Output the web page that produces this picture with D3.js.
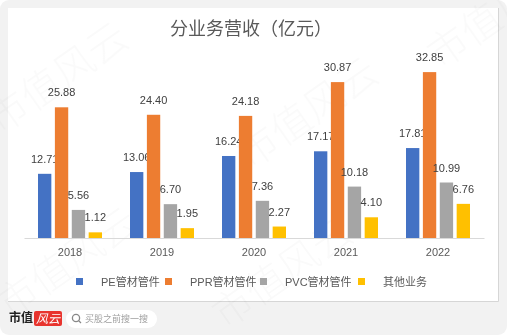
<!DOCTYPE html>
<html><head><meta charset="utf-8">
<script src="https://cdn.jsdelivr.net/npm/d3@7"></script>
<style>html,body{margin:0;padding:0;background:#fff;overflow:hidden}</style>
</head><body>
<script>
const categories = ['2018','2019','2020','2021','2022'];
const seriesNames = ['PE管材管件','PPR管材管件','PVC管材管件','其他业务'];
const pe = [12.71,13.06,16.24,17.17,17.81];
const ppr = [25.88,24.40,24.18,30.87,32.85];
const pvc = [5.56,6.70,7.36,10.18,10.99];
const other = [1.12,1.95,2.27,4.10,6.76];
const colors = ['#4472C4','#ED7D31','#A5A5A5','#FFC000'];
const title = '分业务营收（亿元）';

const values = [pe, ppr, pvc, other];
const W = 507, H = 335;
const svg = d3.select('body').append('svg').attr('width', W).attr('height', H);
const font = '"Liberation Sans", Arial, "Noto Sans CJK SC", sans-serif';
const cjk = '"Noto Sans CJK SC", "Liberation Sans", sans-serif';

// frame
svg.append('rect').attr('x',0).attr('y',0).attr('width',W).attr('height',H).attr('rx',9).attr('fill','#f2f2f2');
svg.append('rect').attr('x',8).attr('y',8).attr('width',490).attr('height',293).attr('fill','#fff');
svg.append('line').attr('x1',498.5).attr('x2',498.5).attr('y1',8).attr('y2',301.5).attr('stroke','#d6d6d6');
svg.append('line').attr('x1',8).attr('x2',498.5).attr('y1',301.5).attr('y2',301.5).attr('stroke','#d6d6d6');

// watermark
const wm = svg.append('g').attr('font-family', cjk).attr('font-size', 40).attr('font-weight', 300)
  .attr('fill', '#000').attr('opacity', 0.022);
[[10,320],[225,330],[250,170],[0,135],[440,70]].forEach(p => {
  wm.append('text').attr('transform', `translate(${p[0]},${p[1]}) rotate(-35)`).text('市值风云');
});

// title
svg.append('text').attr('x', 251).attr('y', 35).attr('text-anchor','middle')
  .attr('font-family', cjk).attr('font-size', 18).attr('fill', '#595959').text(title);

const x = d3.scaleBand().domain(categories).range([24, 484]).paddingInner(0).paddingOuter(0);
const xs = d3.scaleBand().domain(seriesNames).range([14, 78]).paddingInner(0.21).paddingOuter(0);
const y = d3.scaleLinear().domain([0, 35]).range([238, 238 - 35 * 5.05]);

const g = svg.append('g');
seriesNames.forEach((s, si) => {
  const grp = g.append('g');
  grp.selectAll('rect').data(categories).join('rect')
    .attr('x', c => x(c) + xs(s))
    .attr('y', (c, i) => y(values[si][i]))
    .attr('width', xs.bandwidth())
    .attr('height', (c, i) => y(0) - y(values[si][i]))
    .attr('fill', colors[si]);
  grp.selectAll('text').data(categories).join('text')
    .attr('x', c => x(c) + xs(s) + xs.bandwidth() / 2)
    .attr('y', (c, i) => y(values[si][i]) - 11)
    .attr('text-anchor', 'middle').attr('font-family', font).attr('font-size', 11)
    .attr('fill', '#404040')
    .text((c, i) => values[si][i].toFixed(2));
});

// axis
const ax = svg.append('g').attr('transform', 'translate(0,238)')
  .call(d3.axisBottom(x).tickSize(0).tickPadding(10));
ax.select('.domain').attr('stroke', '#d9d9d9');
ax.selectAll('text').attr('font-family', font).attr('font-size', 11).attr('fill', '#595959').attr('dy', '0.71em').attr('y', 10);

// legend
const legX = [76, 165, 260, 358];
const lg = svg.append('g');
seriesNames.forEach((s, i) => {
  lg.append('rect').attr('x', legX[i]).attr('y', 278).attr('width', 7).attr('height', 7).attr('fill', colors[i]);
  lg.append('text').attr('x', legX[i] + 25).attr('y', 285.5).attr('font-family', font)
    .attr('font-size', 11).attr('fill', '#595959').text(s);
});

// footer
svg.append('text').attr('x', 9).attr('y', 322).attr('font-family', cjk).attr('font-size', 12)
  .attr('font-weight', 'bold').attr('fill', '#222').text('市值');
svg.append('rect').attr('x', 34).attr('y', 311).attr('width', 28).attr('height', 15).attr('rx', 2).attr('fill', '#e8342e');
svg.append('text').attr('x', 48).attr('y', 323).attr('text-anchor','middle').attr('font-family', cjk)
  .attr('font-size', 12).attr('font-style','italic').attr('fill', '#fff').text('风云');
svg.append('rect').attr('x', 66).attr('y', 310).attr('width', 91).attr('height', 18).attr('rx', 9).attr('fill', '#fff');
svg.append('circle').attr('cx', 76).attr('cy', 318).attr('r', 3.6).attr('fill', 'none').attr('stroke', '#888').attr('stroke-width', 1.3);
svg.append('line').attr('x1', 78.6).attr('y1', 320.6).attr('x2', 81).attr('y2', 323).attr('stroke', '#888').attr('stroke-width', 1.3);
svg.append('text').attr('x', 85).attr('y', 322).attr('font-family', cjk).attr('font-size', 9)
  .attr('fill', '#a0a0a0').text('买股之前搜一搜');
</script>
</body></html>
